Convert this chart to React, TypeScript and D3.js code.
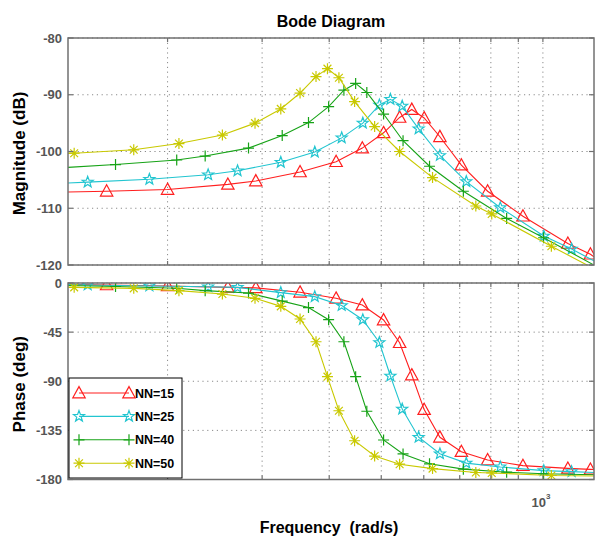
import React from "react";
import * as d3 from "d3";

// NN series: frequency (rad/s), magnitude (dB), phase (deg)
const freqNN15 = [120, 154, 200, 259, 292, 353, 412, 461, 505, 541, 570, 601, 643, 705, 789, 918, 1113, 1226, 1350];
const magNN15 = [-107.2, -107.0, -106.7, -105.8, -105.2, -103.6, -101.8, -99.4, -96.7, -94.0, -92.6, -94.1, -97.4, -102.4, -107.0, -111.4, -116.2, -118.1, -121.0];
const phaseNN15 = [-1.0, -1.8, -2.7, -4.0, -4.5, -8.5, -14.0, -20.2, -33.9, -54.7, -84.3, -116.0, -141.3, -154.5, -162.1, -167.3, -169.8, -170.7, -171.6];

const freqNN25 = [120, 142, 185, 238, 270, 325, 376, 422, 462, 496, 520, 547, 587, 643, 720, 833, 1004, 1131, 1350];
const magNN25 = [-105.7, -105.4, -104.9, -104.1, -103.4, -101.9, -100.1, -97.6, -95.0, -91.8, -90.8, -92.0, -96.0, -100.7, -105.3, -109.9, -114.9, -117.2, -121.0];
const phaseNN25 = [-1.0, -1.8, -2.7, -3.4, -4.0, -8.8, -12.5, -20.6, -33.6, -54.5, -85.2, -115.5, -141.3, -156.4, -165.0, -168.5, -171.9, -172.8, -174.2];

const freqNN40 = [120, 160, 208, 235, 283, 327, 366, 399, 426, 448, 470, 505, 549, 615, 711, 856, 1003, 1350];
const magNN40 = [-103.0, -102.3, -101.5, -100.8, -99.4, -97.2, -94.9, -92.1, -89.2, -88.0, -89.6, -93.4, -98.1, -102.6, -107.0, -111.8, -115.2, -121.8];
const phaseNN40 = [-2.0, -3.2, -4.8, -7.0, -9.2, -16.6, -22.5, -33.6, -53.8, -85.8, -117.5, -143.8, -156.6, -165.6, -170.5, -173.3, -174.8, -176.0];

const freqNN50 = [120, 134, 173, 210, 253, 291, 325, 353, 378, 397, 417, 446, 486, 541, 623, 750, 803, 1037, 1350];
const magNN50 = [-100.4, -100.3, -99.7, -98.6, -97.1, -95.0, -92.5, -89.7, -86.8, -85.4, -87.0, -91.2, -95.6, -100.0, -104.6, -109.6, -111.0, -116.7, -122.4];
const phaseNN50 = [-3.5, -4.0, -4.9, -7.0, -10.1, -14.0, -21.4, -33.0, -53.8, -85.8, -117.0, -144.5, -158.5, -166.0, -170.0, -173.6, -174.0, -176.3, -177.0];

const seriesNames = ["NN=15", "NN=25", "NN=40", "NN=50"];
const seriesColors = ["#ff1f1f", "#22c5d0", "#17a317", "#c9c900"];
const seriesMarkers = ["triangle", "star", "plus", "asterisk"];

const magTicks = [-80, -90, -100, -110, -120];
const phaseTicks = [0, -45, -90, -135, -180];
const gridFreqs = [200, 300, 400, 500, 600, 700, 800, 900, 1000];

const W = 596, H = 537;
const left = 68, right = 594;
const magTop = 38, magBottom = 265;
const phTop = 283, phBottom = 479.5;
const font = "'Liberation Sans', Arial, Helvetica, sans-serif";
const frameColor = "#707070";
const tickColor = "#555";

const series = [
  { f: freqNN15, m: magNN15, p: phaseNN15 },
  { f: freqNN25, m: magNN25, p: phaseNN25 },
  { f: freqNN40, m: magNN40, p: phaseNN40 },
  { f: freqNN50, m: magNN50, p: phaseNN50 },
].map((s, i) => ({
  ...s,
  name: seriesNames[i],
  color: seriesColors[i],
  marker: seriesMarkers[i],
}));

function markerPath(type: string): string {
  if (type === "triangle") return "M0,-6.4L6.2,4.8L-6.2,4.8Z";
  if (type === "plus") return "M-5.5,0H5.5M0,-5.5V5.5";
  if (type === "asterisk") return "M-5.5,0H5.5M0,-5.5V5.5M-3.9,-3.9L3.9,3.9M-3.9,3.9L3.9,-3.9";
  // pentagram
  const pts: string[] = [];
  for (let k = 0; k < 10; k++) {
    const r = k % 2 === 0 ? 5.8 : 2.4;
    const a = -Math.PI / 2 + (k * Math.PI) / 5;
    pts.push(`${(r * Math.cos(a)).toFixed(2)},${(r * Math.sin(a)).toFixed(2)}`);
  }
  return "M" + pts.join("L") + "Z";
}

const Marker: React.FC<{ x: number; y: number; type: string; color: string }> = ({ x, y, type, color }) => (
  <path d={markerPath(type)} transform={`translate(${x},${y})`} fill="none" stroke={color} strokeWidth={1.2} />
);

const App: React.FC = () => {
  const x = d3.scaleLog().domain([130.5, 1245]).range([left, right]);
  const yMag = d3.scaleLinear().domain([-120, -80]).range([magBottom, magTop]);
  const yPh = d3.scaleLinear().domain([-180, 0]).range([phBottom, phTop]);

  const panel = (
    key: string,
    y: d3.ScaleLinear<number, number>,
    top: number,
    bottom: number,
    ticks: number[],
    get: (s: typeof series[number]) => number[]
  ) => {
    const line = d3.line<[number, number]>().x(d => x(d[0])).y(d => y(d[1]));
    return (
      <g key={key}>
        <clipPath id={`clip-${key}`}>
          <rect x={left} y={top} width={right - left} height={bottom - top} />
        </clipPath>
        {/* grid */}
        {gridFreqs.map(f => (
          <line key={`gx${f}`} x1={x(f)} x2={x(f)} y1={top} y2={bottom}
            stroke="#8a8a8a" strokeWidth={1} strokeDasharray="1.2,3.6" />
        ))}
        {ticks.map(t => (
          <line key={`gy${t}`} x1={left} x2={right} y1={y(t)} y2={y(t)}
            stroke="#8a8a8a" strokeWidth={1} strokeDasharray="1.2,3.6" />
        ))}
        {/* curves */}
        <g clipPath={`url(#clip-${key})`}>
          {series.map(s => {
            const pts = s.f.map((f, i) => [f, get(s)[i]] as [number, number]);
            return (
              <g key={s.name}>
                <path d={line(pts) ?? ""} fill="none" stroke={s.color} strokeWidth={1.1} />
                {pts.map((d, i) => (
                  <Marker key={i} x={x(d[0])} y={y(d[1])} type={s.marker} color={s.color} />
                ))}
              </g>
            );
          })}
        </g>
        {/* frame and inward ticks */}
        <rect x={left} y={top} width={right - left} height={bottom - top} fill="none" stroke={frameColor} strokeWidth={1.5} />
        {gridFreqs.map(f => (
          <g key={`tx${f}`}>
            <line x1={x(f)} x2={x(f)} y1={bottom} y2={bottom - 4} stroke={frameColor} strokeWidth={1.2} />
            <line x1={x(f)} x2={x(f)} y1={top} y2={top + 4} stroke={frameColor} strokeWidth={1.2} />
          </g>
        ))}
        {ticks.map(t => (
          <g key={`ty${t}`}>
            <line x1={left} x2={left + 5} y1={y(t)} y2={y(t)} stroke={frameColor} strokeWidth={1.2} />
            <line x1={right} x2={right - 5} y1={y(t)} y2={y(t)} stroke={frameColor} strokeWidth={1.2} />
            <text x={left - 6} y={y(t)} dy="0.36em" textAnchor="end" fontFamily={font}
              fontWeight="bold" fontSize={13} fill={tickColor}>{t}</text>
          </g>
        ))}
      </g>
    );
  };

  const legendX = 69, legendY = 378, legendW = 113, legendH = 100;

  return (
    <svg width={W} height={H} style={{ position: "absolute", left: 0, top: 0, background: "#fff" }}>
      <rect width={W} height={H} fill="#fff" />
      {panel("mag", yMag, magTop, magBottom, magTicks, s => s.m)}
      {panel("ph", yPh, phTop, phBottom, phaseTicks, s => s.p)}

      {/* x tick label 10^3 */}
      <text x={x(1000) - 2} y={507} textAnchor="middle" fontFamily={font} fontWeight="bold" fontSize={13} fill={tickColor}>
        10<tspan dy={-8} fontSize={8}>3</tspan>
      </text>

      {/* legend */}
      <rect x={legendX} y={legendY} width={legendW} height={legendH} fill="#fff" stroke="#000" strokeWidth={1} />
      {series.map((s, i) => {
        const ly = 393 + i * 23.4;
        return (
          <g key={s.name}>
            <line x1={79} x2={129} y1={ly} y2={ly} stroke={s.color} strokeWidth={1.1} />
            <Marker x={79} y={ly} type={s.marker} color={s.color} />
            <Marker x={129} y={ly} type={s.marker} color={s.color} />
            <text x={135} y={ly} dy="0.36em" fontFamily={font} fontWeight="bold" fontSize={12.5} fill="#000">{s.name}</text>
          </g>
        );
      })}

      {/* titles */}
      <text x={331} y={27} textAnchor="middle" fontFamily={font} fontWeight="bold" fontSize={16} fill="#000">Bode Diagram</text>
      <text transform={`translate(25,${(magTop + magBottom) / 2 + 2}) rotate(-90)`} textAnchor="middle"
        fontFamily={font} fontWeight="bold" fontSize={17} fill="#000">Magnitude (dB)</text>
      <text transform={`translate(25,${(phTop + phBottom) / 2 + 3}) rotate(-90)`} textAnchor="middle"
        fontFamily={font} fontWeight="bold" fontSize={17} fill="#000">Phase (deg)</text>
      <text x={329} y={533} textAnchor="middle" fontFamily={font} fontWeight="bold" fontSize={16} fill="#000"
        style={{ whiteSpace: "pre" }}>{"Frequency  (rad/s)"}</text>
    </svg>
  );
};

export default App;
